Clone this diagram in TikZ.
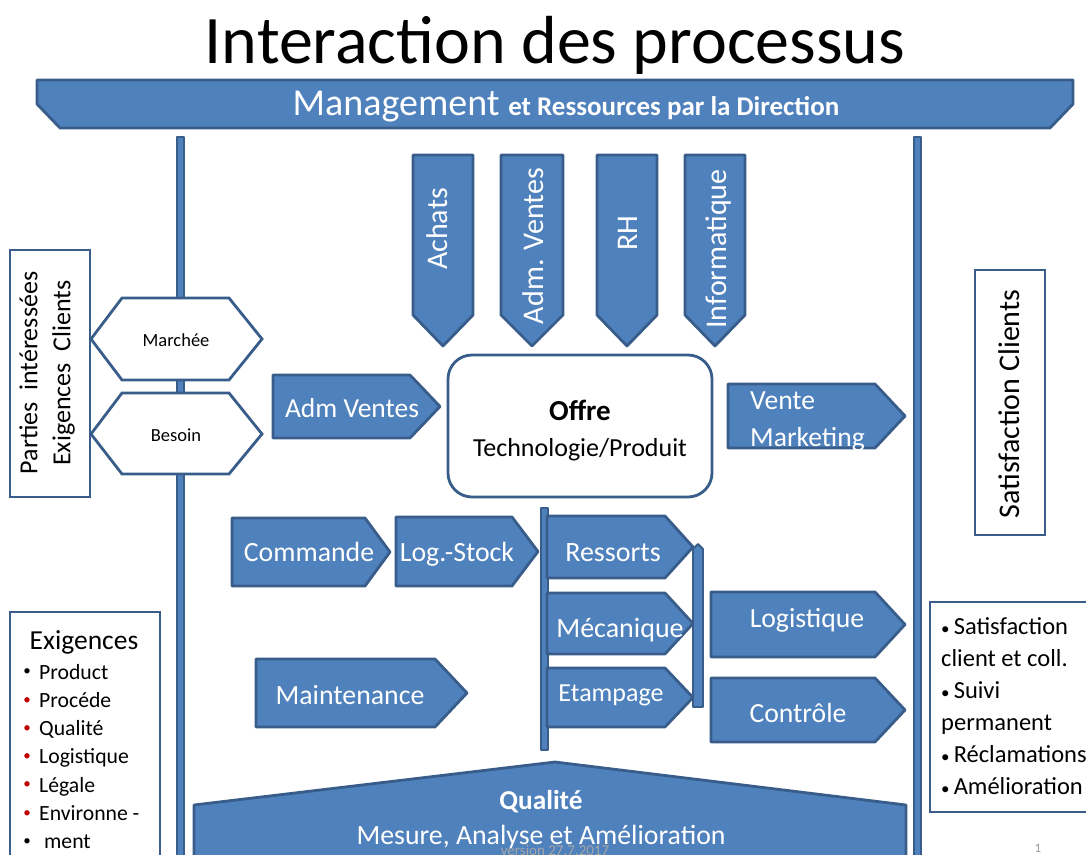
\documentclass[tikz,border=0pt]{standalone}
\usepackage{fontspec}
\setmainfont{Carlito}
\definecolor{bfill}{HTML}{4F81BD}
\definecolor{bline}{HTML}{385D8A}
\definecolor{bred}{HTML}{C00000}
\newcommand{\fs}[1]{\fontsize{#1}{#1}\selectfont}
\newcommand{\sbul}{{\fontsize{17}{17}\selectfont•}\,}
\newcommand{\rpent}[5]{\draw[bshape] (#1,#2) -- (#5,#2) -- (#3,{(#2+#4)/2}) -- (#5,#4) -- (#1,#4) -- cycle;}
\newcommand{\dpent}[5]{\draw[bshape] (#1,#2) -- (#3,#2) -- (#3,#4) -- ({(#1+#3)/2},#5) -- (#1,#4) -- cycle;}
\begin{document}
\begin{tikzpicture}[x=1pt,y=-1pt,
  bshape/.style={fill=bfill,draw=bline,line width=2.8pt,line join=round},
  wbox/.style={fill=white,draw=bline,line width=2.8pt},
  wtxt/.style={text=white,inner sep=0pt,anchor=base},
  ktxt/.style={text=black,inner sep=0pt,anchor=base}]
\useasboundingbox (0,0) rectangle (1086,854);
% title
\node[ktxt,font=\fs{68}] (title) at (555,63) {Interaction des processus};
% management banner
\draw[bshape] (37,80) -- (1073,80) -- (1073,104) -- (1050,128) -- (60,128) -- (37,104) -- cycle;
\node[wtxt] (mgmt) at (566,115) {\fs{38}Management \fs{27}\bfseries et Ressources par la Direction};
% vertical bars
\draw[bshape,line width=1.8pt] (177,137) rectangle (184,860);
\draw[bshape,line width=1.8pt] (914,137) rectangle (921,860);
% left box
\draw[wbox] (10,250) rectangle (90,497);
\node[text=black,inner sep=0pt,rotate=90,align=center,font=\fs{26}] (parties) at (47,373) {Parties\ \ intéressées\\[7pt]Exigences\ \ Clients};
% hexagons
\draw[wbox] (91,339) -- (122,298) -- (229,298) -- (262,339) -- (229,380) -- (122,380) -- cycle;
\node[ktxt,font=\fs{18.5}] (marchee) at (176,346) {Marchée};
\draw[wbox] (91,434) -- (122,393) -- (229,393) -- (262,434) -- (229,474) -- (122,474) -- cycle;
\node[ktxt,font=\fs{18.5}] (besoin) at (176,441) {Besoin};
% top down arrows
\dpent{413}{155}{473}{315}{346}
\node[wtxt,rotate=90,font=\fs{30}] (achats) at (447.6,229) {Achats};
\dpent{501}{155}{563}{315}{346}
\node[wtxt,rotate=90,font=\fs{30}] (admv) at (543.6,246) {Adm. Ventes};
\dpent{597}{155}{657}{315}{346}
\node[wtxt,rotate=90,font=\fs{30}] (rh) at (637.6,233) {RH};
\dpent{685}{155}{745}{315}{346}
\node[wtxt,rotate=90,font=\fs{30}] (info) at (726.6,249) {Informatique};
% Adm Ventes
\rpent{273}{375}{440}{438}{410}
\node[wtxt,font=\fs{27.5}] (admventes) at (352,417) {Adm Ventes};
% Offre
\draw[wbox,rounded corners=24pt] (448,355) rectangle (712,497);
\node[ktxt,font=\fs{29}\bfseries] (offre) at (580,420) {Offre};
\node[ktxt,font=\fs{26}] (techno) at (580,456) {Technologie/Produit};
% Vente Marketing
\rpent{728}{384}{905}{448}{875}
\node[wtxt,anchor=base west,font=\fs{27.6}] (vente) at (750,409) {Vente};
\node[wtxt,anchor=base west,font=\fs{27.6}] (mark) at (750,446) {Marketing};
% satisfaction clients
\draw[wbox] (975,270) rectangle (1045,535);
\node[ktxt,rotate=90,font=\fs{30}] (satcl) at (1019.6,404) {Satisfaction Clients};
% Commande, Log-Stock
\rpent{232}{518}{390}{586}{365}
\node[wtxt,font=\fs{27.8}] (commande) at (309,561) {Commande};
\rpent{396}{517}{538}{586}{512}
\node[wtxt,font=\fs{27.8}] (logstock) at (457,561) {Log.-Stock};
% middle bar
\draw[bshape,line width=1.8pt] (541,508) rectangle (548,750);
% Ressorts etc
\rpent{547}{516}{693}{578}{665}
\node[wtxt,font=\fs{28}] (ressorts) at (613,561) {Ressorts};
\rpent{547}{593}{693}{654}{665}
\node[wtxt,font=\fs{28}] (meca) at (620,637) {Mécanique};
\rpent{547}{668}{693}{727}{665}
\node[wtxt,font=\fs{26}] (etamp) at (611,701) {Etampage};
\draw[bshape,line width=1.8pt] (693,549) -- (698,544) -- (703,549) -- (703,707) -- (693,707) -- cycle;
% Logistique, Controle
\rpent{711}{592}{905}{657}{875}
\node[wtxt,font=\fs{27.7}] (logist) at (807,627) {Logistique};
\rpent{711}{678}{905}{742}{875}
\node[wtxt,font=\fs{27.7}] (controle) at (798,722) {Contrôle};
% Maintenance
\rpent{256}{659}{467}{727}{435}
\node[wtxt,font=\fs{27.8}] (maint) at (350,704) {Maintenance};
% Qualite
\draw[bshape] (194,870) -- (194,805) -- (555,762) -- (906,805) -- (906,870) -- cycle;
\node[wtxt,font=\fs{27.3}\bfseries] (qual) at (541,809) {Qualité};
\node[wtxt,font=\fs{27.8}] (mesure) at (541,844) {Mesure, Analyse et Amélioration};
\node[inner sep=0pt,text=gray!70,anchor=north,font=\fs{15}] (version) at (555,845) {version 27.7.2017};
% Exigences box
\draw[wbox] (10,612) rectangle (160,870);
\node[ktxt,font=\fs{27.5}] (exig) at (84,649) {Exigences};
\foreach \t/\c [count=\i] in {Product/black,Procéde/bred,Qualité/bred,Logistique/bred,Légale/bred,Environne -/bred,\ ment/black}{
  \node[inner sep=0pt,anchor=center,text=\c,font=\fs{15}] (b\i) at (27,{644+28.3*\i}) {•};
  \node[inner sep=0pt,anchor=base west,text=black,font=\fs{21.7}] (e\i) at (39,{650.7+28.3*\i}) {\t};
}
% right box
\draw[wbox] (930,602) rectangle (1096,812);
\foreach \t [count=\i] in {\sbul Satisfaction,client et coll.,\sbul Suivi,permanent,\sbul Réclamations,\sbul Amélioration}{
  \node[inner sep=0pt,anchor=base west,text=black,font=\fs{24.5}] (s\i) at (941,{601.9+32.1*\i}) {\t};
}
% page number
\node[inner sep=0pt,text=gray!80,anchor=north,font=\fs{13}] (pnum) at (1038,844) {1};
\end{tikzpicture}
\end{document}
